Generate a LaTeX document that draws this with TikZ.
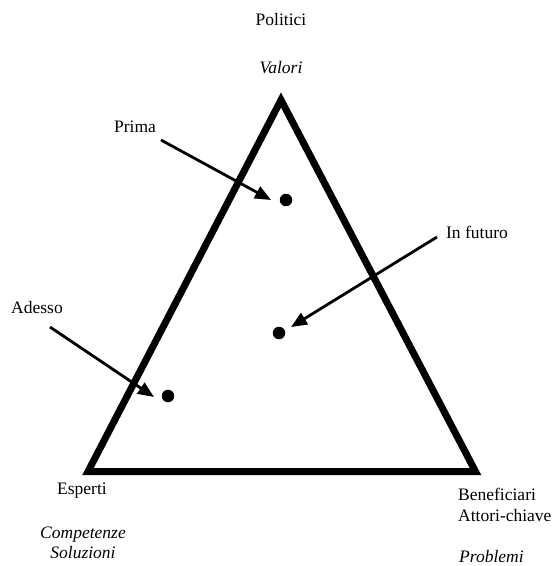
\documentclass[tikz,border=0pt]{standalone}
\usepackage{fontspec}
\setmainfont{Liberation Serif}
\usetikzlibrary{arrows.meta}
\begin{document}
\begin{tikzpicture}[x=1pt,y=-1pt,
  lbl/.style={inner sep=0pt,font=\fontsize{17.5}{20.5}\selectfont},
  ilbl/.style={lbl,font=\fontsize{17.5}{20.5}\selectfont\itshape},
  tri/.style={line width=7pt,line join=miter},
  pt/.style={circle,fill=black,inner sep=0pt,minimum size=12.5pt},
  arr/.style={line width=2.8pt,-{Triangle[length=16pt,width=13pt]}}]
\useasboundingbox (0,0) rectangle (558,566);
% triangle
\coordinate (A) at (281,100);
\coordinate (B) at (88,471.5);
\coordinate (C) at (475.5,471.5);
\draw[tri] (A) -- (B) -- (C) -- cycle;
% dots
\node[pt] (d1) at (286,200) {};
\node[pt] (d2) at (279,333) {};
\node[pt] (d3) at (168,396) {};
% labels
\node[lbl] (pol) at (281,20) {Politici};
\node[ilbl] (val) at (281,68) {Valori};
\node[lbl] (prima) at (135,127) {Prima};
\node[lbl] (fut) at (477,232) {In futuro};
\node[lbl] (ade) at (37,308) {Adesso};
\node[lbl] (esp) at (82,491) {Esperti};
\node[ilbl,align=center] (comp) at (83,543) {Competenze\\Soluzioni};
\node[lbl,align=left,anchor=west] (ben) at (458,505) {Beneficiari\\Attori-chiave};
\node[ilbl,anchor=west] (prob) at (459,557) {Problemi};
% arrows
\coordinate (s1) at (161,140);
\coordinate (e1) at (271,200);
\coordinate (s2) at (437,237);
\coordinate (e2) at (291,327);
\coordinate (s3) at (50,327);
\coordinate (e3) at (154,397);
\draw[arr] (s1) -- (e1);
\draw[arr] (s2) -- (e2);
\draw[arr] (s3) -- (e3);
\end{tikzpicture}
\end{document}
